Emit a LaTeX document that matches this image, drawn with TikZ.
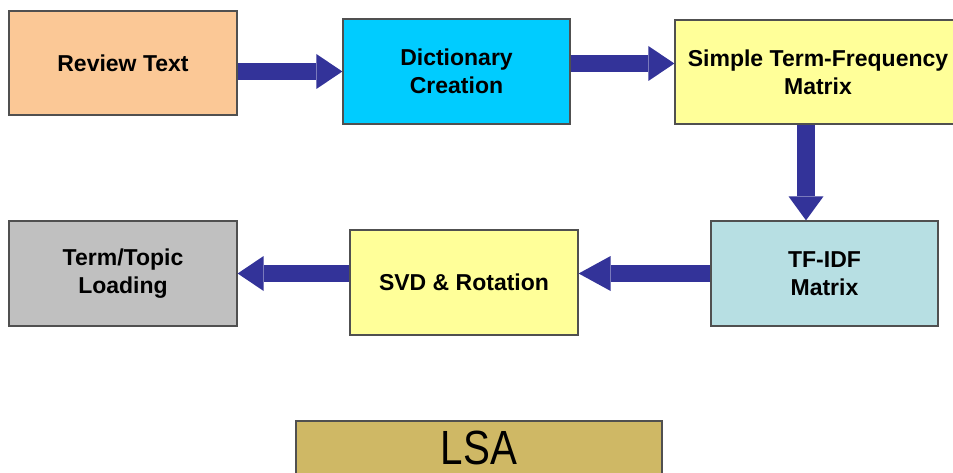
\documentclass[tikz,border=0pt]{standalone}
\usepackage{fontspec}
\usepackage{graphicx}
\setmainfont{Liberation Sans}
\usetikzlibrary{arrows.meta,calc}
\definecolor{peach}{HTML}{FBC896}
\definecolor{dictc}{HTML}{00CCFF}
\definecolor{yelc}{HTML}{FFFF99}
\definecolor{tfc}{HTML}{B7DFE3}
\definecolor{grayc}{HTML}{C0C0C0}
\definecolor{lsac}{HTML}{CFB865}
\definecolor{bordc}{HTML}{505050}
\definecolor{arrc}{HTML}{333399}
\begin{document}
\begin{tikzpicture}[x=1pt,y=-1pt,
  box/.style={draw=bordc, line width=1.3pt, rectangle, inner sep=0pt, align=center,
    font=\fontsize{23}{28}\selectfont\bfseries},
  flow/.style={draw=arrc, line width=17pt,
    -{Triangle[width=35pt,length=26pt,line width=0pt]}},
  flowlong/.style={draw=arrc, line width=17pt,
    -{Triangle[width=35pt,length=32pt,line width=0pt]}},
  flowshort/.style={draw=arrc, line width=18pt,
    -{Triangle[width=35pt,length=24pt,line width=0pt]}}]
\useasboundingbox (0,0) rectangle (953,473);
\fill[white] (0,0) rectangle (953,473);

\node[box, fill=peach, minimum width=228pt, minimum height=104pt] (rev) at (123,63) {Review Text};
\node[box, fill=dictc, minimum width=227pt, minimum height=105pt] (dict) at (456.5,71.5) {Dictionary\\Creation};
\node[box, fill=yelc, minimum width=286pt, minimum height=104pt] (stf) at (818,72) {Simple Term-Frequency\\Matrix};
\node[box, fill=tfc, minimum width=227pt, minimum height=105pt] (tfidf) at (824.5,273.5) {TF-IDF\\Matrix};
\node[box, fill=yelc, minimum width=228pt, minimum height=105pt] (svd) at (464,282.5) {SVD \& Rotation};
\node[box, fill=grayc, minimum width=228pt, minimum height=105pt] (term) at (123,273.5) {Term/Topic\\Loading};
\node[draw=bordc, line width=1.3pt, fill=lsac, inner sep=0pt, minimum width=366pt, minimum height=54pt] (lsa) at (479,448)
  {\scalebox{0.84}[1]{\fontsize{48}{50}\selectfont LSA}};

\coordinate (dtop) at ($(stf.south)+(-12,0)$);
\coordinate (a2s) at ($(dict.east)+(0,-8)$);

\draw[flow] (rev.east |- dict.west) -- (dict.west);
\draw[flow] (a2s) -- (a2s -| stf.west);
\draw[flowshort] (dtop) -- (dtop |- tfidf.north);
\draw[flowlong] (tfidf.west) -- (svd.east |- tfidf.west);
\draw[flow] (svd.west |- term.east) -- (term.east);
\end{tikzpicture}
\end{document}
